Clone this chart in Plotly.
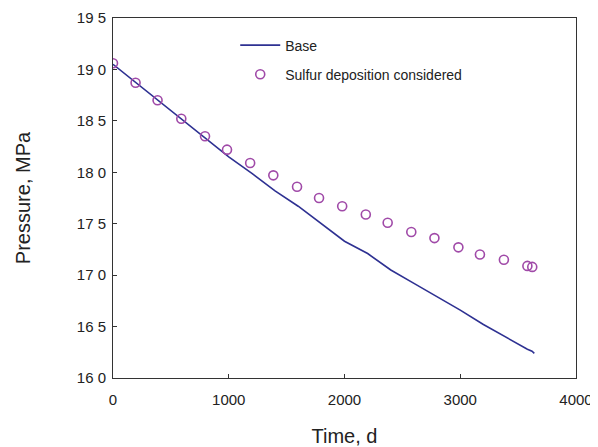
import plotly.graph_objects as go

base_t = [0, 200, 400, 600, 800, 1000, 1200, 1400, 1600, 1800, 2000, 2200, 2400,
          2600, 2800, 3000, 3200, 3400, 3500, 3580, 3620, 3640]
base_p = [19.05, 18.87, 18.69, 18.51, 18.33, 18.15, 17.99, 17.82, 17.67, 17.50,
          17.33, 17.21, 17.05, 16.92, 16.79, 16.66, 16.52, 16.39, 16.33, 16.28, 16.26, 16.24]

sulfur_t = [0, 195, 385, 590, 795, 985, 1185, 1385, 1590, 1780, 1980, 2184, 2373,
            2577, 2777, 2984, 3170, 3377, 3580, 3622]
sulfur_p = [19.06, 18.87, 18.70, 18.52, 18.35, 18.22, 18.09, 17.97, 17.86, 17.75,
            17.67, 17.59, 17.51, 17.42, 17.36, 17.27, 17.20, 17.15, 17.09, 17.08]

y_ticks = [16.0, 16.5, 17.0, 17.5, 18.0, 18.5, 19.0, 19.5]
y_tick_text = ["16 0", "16 5", "17 0", "17 5", "18 0", "18 5", "19 0", "19 5"]
x_ticks = [0, 1000, 2000, 3000, 4000]

FONT = "Arial, Liberation Sans, sans-serif"

fig = go.Figure()
fig.add_trace(go.Scatter(x=base_t, y=base_p, mode="lines", name="Base",
                         legendgroup="a",
                         line=dict(color="#2E3192", width=1.6)))
fig.add_trace(go.Scatter(x=sulfur_t, y=sulfur_p, mode="markers",
                         name="Sulfur deposition considered", legendgroup="b",
                         marker=dict(symbol="circle-open", size=9, color="#A04AA8",
                                     line=dict(width=1.6, color="#A04AA8"))))

axis_common = dict(showline=True, linecolor="#333333", linewidth=1, mirror=True,
                   ticks="inside", ticklen=4, tickcolor="#333333", showgrid=False,
                   zeroline=False, automargin=False,
                   tickfont=dict(family=FONT, size=15, color="#222222"))

fig.update_xaxes(range=[0, 4000], tickvals=x_ticks, ticklabelstandoff=8,
                 title=dict(text="Time, d", font=dict(family=FONT, size=20, color="#222222"),
                            standoff=30),
                 **axis_common)
fig.update_yaxes(range=[16.0, 19.5], tickvals=y_ticks, ticktext=y_tick_text,
                 ticklabelstandoff=3,
                 title=dict(text="Pressure, MPa", font=dict(family=FONT, size=20, color="#222222"),
                            standoff=40),
                 **axis_common)

fig.update_layout(width=590, height=439,
                  margin=dict(l=105, r=22, t=10, b=69),
                  plot_bgcolor="white", paper_bgcolor="white",
                  font=dict(family=FONT, color="#222222"),
                  legend=dict(x=0.264, y=0.968, xanchor="left", yanchor="top",
                              bgcolor="rgba(0,0,0,0)", font=dict(size=14),
                              itemwidth=40, traceorder="grouped", tracegroupgap=8))

fig.write_html("out.html")
